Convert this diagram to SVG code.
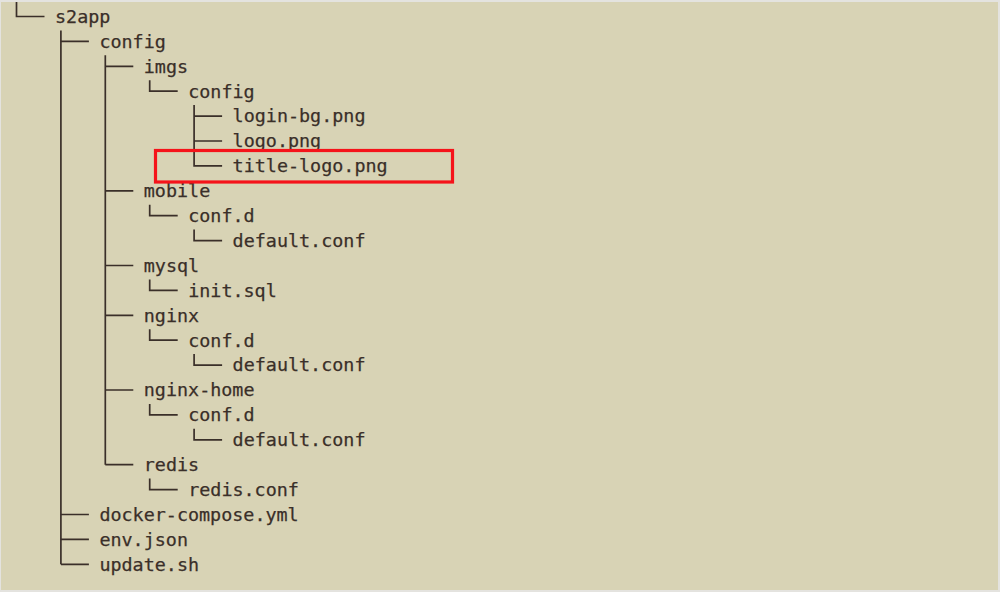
<svg xmlns="http://www.w3.org/2000/svg" width="1000" height="592" viewBox="0 0 1000 592">
<style>
.t{font-family:"DejaVu Sans Mono","Liberation Mono",monospace;font-size:18.4px;fill:#3a2f29;stroke:#3a2f29;stroke-width:0.25}
.c{fill:none;stroke:#3a2f29;stroke-width:1.7}
</style>
<rect x="0" y="0" width="1000" height="592" fill="#e4e3df"/>
<rect x="1" y="2" width="997" height="588" fill="#d8d3b5"/>
<g id="connectors" class="c">
<path d="M16.5 2 V16.5 H44.5"/>
<path d="M60.9 30.4 V564.3"/>
<path d="M60.9 41.4 H88.9 M60.9 514.5 H88.9 M60.9 539.4 H88.9 M60.9 564.3 H88.9"/>
<path d="M105.3 55.3 V464.7"/>
<path d="M105.3 66.3 H133.3 M105.3 190.8 H133.3 M105.3 265.5 H133.3 M105.3 315.3 H133.3 M105.3 390 H133.3 M105.3 464.7 H133.3"/>
<path d="M149.7 80.2 V91.2 H177.7"/>
<path d="M149.7 204.7 V215.7 H177.7"/>
<path d="M149.7 279.4 V290.4 H177.7"/>
<path d="M149.7 329.2 V340.2 H177.7"/>
<path d="M149.7 403.9 V414.9 H177.7"/>
<path d="M149.7 478.6 V489.6 H177.7"/>
<path d="M194.1 105.1 V165.9 H222.1 M194.1 116.1 H222.1 M194.1 141 H222.1"/>
<path d="M194.1 229.6 V240.6 H222.1"/>
<path d="M194.1 354.1 V365.1 H222.1"/>
<path d="M194.1 428.8 V439.8 H222.1"/>
</g>
<g id="n-s2app"><text class="t" x="55" y="22.8">s2app</text></g>
<g id="n-config"><text class="t" x="99.4" y="47.7">config</text></g>
<g id="n-imgs"><text class="t" x="143.8" y="72.6">imgs</text></g>
<g id="n-imgs-config"><text class="t" x="188.2" y="97.5">config</text></g>
<g id="n-login-bg"><text class="t" x="232.6" y="122.4">login-bg.png</text></g>
<g id="n-logo"><text class="t" x="232.6" y="147.3">logo.png</text></g>
<g id="n-title-logo"><text class="t" x="232.6" y="172.2">title-logo.png</text></g>
<g id="n-mobile"><text class="t" x="143.8" y="197.1">mobile</text></g>
<g id="n-mobile-confd"><text class="t" x="188.2" y="222">conf.d</text></g>
<g id="n-mobile-default"><text class="t" x="232.6" y="246.9">default.conf</text></g>
<g id="n-mysql"><text class="t" x="143.8" y="271.8">mysql</text></g>
<g id="n-init"><text class="t" x="188.2" y="296.7">init.sql</text></g>
<g id="n-nginx"><text class="t" x="143.8" y="321.6">nginx</text></g>
<g id="n-nginx-confd"><text class="t" x="188.2" y="346.5">conf.d</text></g>
<g id="n-nginx-default"><text class="t" x="232.6" y="371.4">default.conf</text></g>
<g id="n-nginx-home"><text class="t" x="143.8" y="396.3">nginx-home</text></g>
<g id="n-home-confd"><text class="t" x="188.2" y="421.2">conf.d</text></g>
<g id="n-home-default"><text class="t" x="232.6" y="446.1">default.conf</text></g>
<g id="n-redis"><text class="t" x="143.8" y="471">redis</text></g>
<g id="n-redis-conf"><text class="t" x="188.2" y="495.9">redis.conf</text></g>
<g id="n-docker"><text class="t" x="99.4" y="520.8">docker-compose.yml</text></g>
<g id="n-env"><text class="t" x="99.4" y="545.7">env.json</text></g>
<g id="n-update"><text class="t" x="99.4" y="570.6">update.sh</text></g>
<rect id="highlight" x="155.5" y="150.5" width="297" height="31.5" fill="none" stroke="#f5131a" stroke-width="3.2"/>
</svg>
